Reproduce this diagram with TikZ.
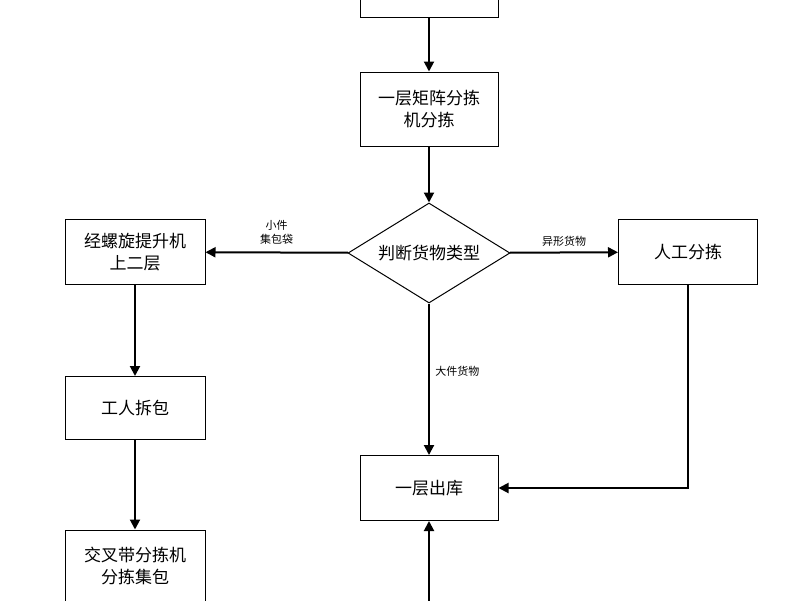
\documentclass[tikz,border=0pt]{standalone}
\usepackage{fontspec}
\setmainfont{Noto Sans CJK SC}
\usetikzlibrary{shapes.geometric,arrows.meta}
\begin{document}
\begin{tikzpicture}[x=1pt,y=-1pt,
box/.style={draw,line width=1pt,minimum width=138pt,minimum height=64pt,align=center,font=\fontsize{17}{22}\selectfont},
lab/.style={font=\fontsize{11}{14}\selectfont,align=center},
arr/.style={line width=2pt,-{Triangle[length=10pt,width=10pt]}}]
\useasboundingbox (0,0) rectangle (800,600);
\node[box,minimum height=50pt] (top) at (429,-8) {};
\node[box,minimum height=74pt] (b2) at (429,109) {一层矩阵分拣\\机分拣};
\node[draw,line width=1pt,diamond,aspect=1.62,minimum width=162pt,minimum height=100pt,inner sep=0pt,font=\fontsize{17}{22}\selectfont] (d) at (429,253) {判断货物类型};
\node[box,minimum width=140pt,minimum height=65pt] (l1) at (135,252) {经螺旋提升机\\上二层};
\node[box,minimum width=139pt,minimum height=65pt] (r1) at (688,252) {人工分拣};
\node[box,minimum width=140pt,minimum height=63pt] (l2) at (135,408) {工人拆包};
\node[box,minimum width=140pt,minimum height=72pt] (l3) at (135,566) {交叉带分拣机\\分拣集包};
\node[box,minimum height=65pt] (o) at (429,488) {一层出库};
\coordinate (bot) at (429,610);
\coordinate (rc) at (688,488);
\draw[arr] (top) -- (b2);
\draw[arr] (b2) -- (d);
\draw[arr] (d) -- node[lab,above=4pt]{小件\\集包袋} (l1);
\draw[arr] (d) -- node[lab,above=2pt]{异形货物} (r1);
\draw[arr] (d) -- node[lab,right=2pt,pos=0.45]{大件货物} (o);
\draw[arr] (l1) -- (l2);
\draw[arr] (l2) -- (l3);
\draw[arr] (r1.south) |- (o.east);
\draw[arr] (bot) -- (o);
\end{tikzpicture}
\end{document}
